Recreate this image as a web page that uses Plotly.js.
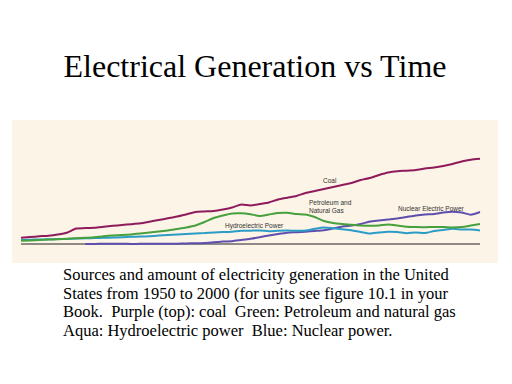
<!DOCTYPE html>
<html>
<head>
<meta charset="utf-8">
<script src="https://cdn.plot.ly/plotly-3.0.1.min.js"></script>
<style>html,body{margin:0;padding:0;background:#fff;}#chart{width:512px;height:384px;}</style>
</head>
<body>
<div id="chart"></div>
<script>
// Years 1950-2000; generation in billion kWh
var years = [];
for (var yr = 1950; yr <= 2000; yr++) years.push(yr);

var coal = [145,161,177,191,219,260,357,366,375,396,
            419,437,455,476,513,552,591,633,679,736,
            748,759,794,840,909,886,920,955,1024,1065,
            1104,1173,1219,1265,1311,1357,1403,1472,1518,1587,
            1645,1674,1686,1702,1737,1760,1794,1840,1898,1939,
            1962];

var petroleumGas = [76,83,92,101,110,120,131,143,156,179,
                    196,207,221,242,265,288,311,345,380,426,
                    506,598,656,702,708,685,644,679,713,720,
                    690,679,621,529,483,460,444,426,419,426,
                    449,426,398,391,386,391,391,382,391,426,
                    460];

var hydro = [92,99,104,108,113,117,127,131,138,143,
             150,154,166,170,179,193,207,219,230,244,
             253,267,276,283,304,306,313,294,306,311,
             304,311,350,380,363,340,317,276,242,265,
             283,276,248,267,251,299,322,350,334,331,
             311];

var nuclearYears = [];
for (var ny = 1957; ny <= 2000; ny++) nuclearYears.push(ny);
var nuclear = [2,2,5,5,5,2,3,3,4,6,
               8,13,16,23,39,55,64,92,120,156,
               196,230,260,271,283,299,317,357,403,426,
               460,518,541,564,587,621,656,679,690,725,
               743,725,674,736];

var seriesLabels = ["Coal", "Petroleum and<br>Natural Gas", "Hydroelectric Power", "Nuclear Electric Power"];
var titleText = "Electrical Generation vs Time";
var captionLines = [
  "Sources and amount of electricity generation in the United",
  "States from 1950 to 2000 (for units see figure 10.1 in your",
  "Book.\u00a0 Purple (top): coal\u00a0 Green: Petroleum and natural gas",
  "Aqua: Hydroelectric power\u00a0 Blue: Nuclear power."
];

var serif = '"Liberation Serif", "Times New Roman", Times, serif';

var traces = [
  {x:[years[0], years[years.length-1]], y:[0,0], mode:'lines', line:{color:'#222', width:1.2}, hoverinfo:'skip'},
  {x:nuclearYears, y:nuclear, mode:'lines', line:{color:'#5e4fae', width:2, shape:'spline', smoothing:0.6}},
  {x:years, y:hydro, mode:'lines', line:{color:'#2b9cc6', width:2, shape:'spline', smoothing:0.6}},
  {x:years, y:petroleumGas, mode:'lines', line:{color:'#46a03e', width:2, shape:'spline', smoothing:0.6}},
  {x:years, y:coal, mode:'lines', line:{color:'#8e1b5c', width:2, shape:'spline', smoothing:0.6}}
];

var labelFont = {family:'"Liberation Sans", Arial, sans-serif', size:6.5, color:'#333'};
var annotations = [
  {x:1983.7, y:1450, xref:'x', yref:'y', text:seriesLabels[0], showarrow:false, font:labelFont, xanchor:'center', yanchor:'middle'},
  {x:1981.1, y:860, xref:'x', yref:'y', text:seriesLabels[1], showarrow:false, font:labelFont, xanchor:'left', yanchor:'middle', align:'left'},
  {x:1975.4, y:421, xref:'x', yref:'y', text:seriesLabels[2], showarrow:false, font:labelFont, xanchor:'center', yanchor:'middle'},
  {x:1994.7, y:821, xref:'x', yref:'y', text:seriesLabels[3], showarrow:false, font:labelFont, xanchor:'center', yanchor:'middle'}
];
var capY = [-0.0825, -0.2119, -0.3413, -0.4706];
captionLines.forEach(function(t, i){
  annotations.push({x:0.1008, y:capY[i], xref:'paper', yref:'paper', text:t, showarrow:false,
    xanchor:'left', yanchor:'middle', align:'left',
    font:{family:serif, size:16.5, color:'#000'}});
});

var layout = {
  width:512, height:384,
  margin:{l:12, r:14, t:120, b:121},
  paper_bgcolor:'#ffffff',
  plot_bgcolor:'#fcf4e6',
  showlegend:false,
  title:{text:titleText, x:0.5, xref:'paper', xanchor:'center', y:0.829, yref:'container', yanchor:'middle',
         font:{family:serif, size:32, color:'#000'}},
  xaxis:{range:[1949.02, 2001.96], showgrid:false, zeroline:false, showticklabels:false, ticks:'', showline:false, fixedrange:true},
  yaxis:{range:[-437, 2852], showgrid:false, zeroline:false, showticklabels:false, ticks:'', showline:false, fixedrange:true},
  annotations:annotations
};

Plotly.newPlot('chart', traces, layout, {staticPlot:true, displayModeBar:false});
</script>
</body>
</html>
